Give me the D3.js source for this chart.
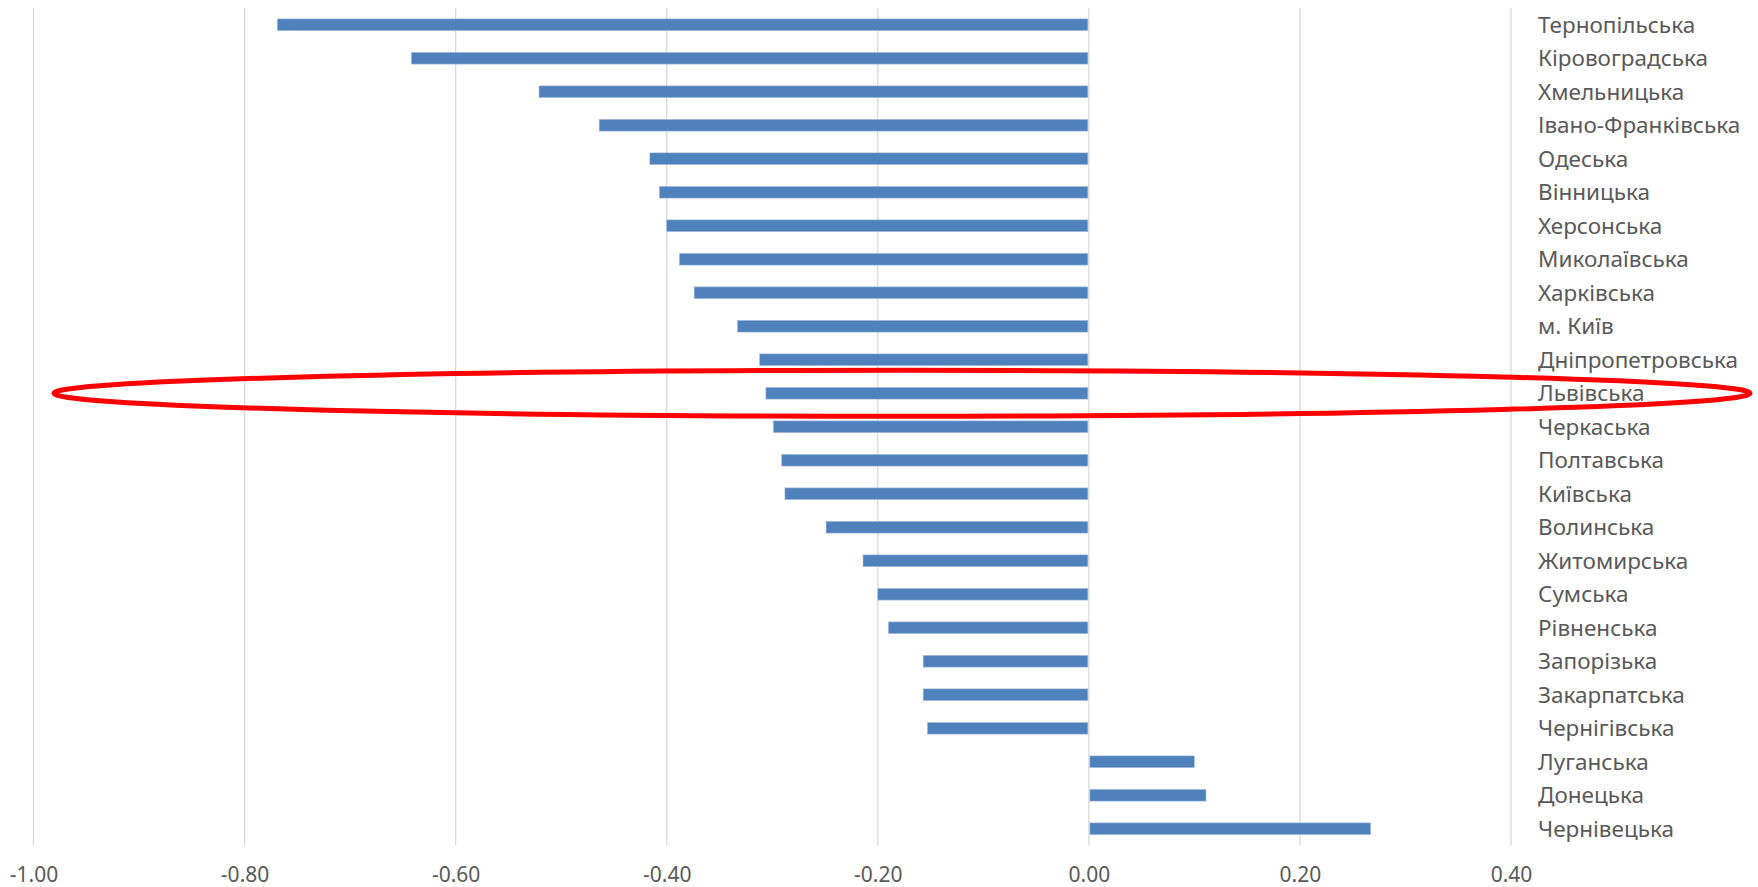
<!DOCTYPE html>
<html>
<head>
<meta charset="utf-8">
<script src="https://cdn.jsdelivr.net/npm/d3@7"></script>
<style>
  html, body { margin: 0; padding: 0; background: #ffffff; }
  svg { display: block; }
</style>
</head>
<body>
<svg id="chart" width="1758" height="887"></svg>
<script>
const categories = [
  "Тернопільська", "Кіровоградська", "Хмельницька", "Івано-Франківська", "Одеська",
  "Вінницька", "Херсонська", "Миколаївська", "Харківська", "м. Київ",
  "Дніпропетровська", "Львівська", "Черкаська", "Полтавська", "Київська",
  "Волинська", "Житомирська", "Сумська", "Рівненська", "Запорізька",
  "Закарпатська", "Чернігівська", "Луганська", "Донецька", "Чернівецька"
];
const values = [
  -0.769, -0.642, -0.521, -0.464, -0.416,
  -0.407, -0.400, -0.388, -0.374, -0.333,
  -0.312, -0.306, -0.299, -0.291, -0.288,
  -0.249, -0.214, -0.200, -0.190, -0.157,
  -0.157, -0.153, 0.100, 0.111, 0.267
];
const tickValues = [-1.0, -0.8, -0.6, -0.4, -0.2, 0.0, 0.2, 0.4];
const tickLabels = ["-1.00", "-0.80", "-0.60", "-0.40", "-0.20", "0.00", "0.20", "0.40"];
const highlighted = "Львівська";

const svg = d3.select("#chart");
const plot = { left: 33.5, right: 1511, top: 8, bottom: 845.5 };

const x = d3.scaleLinear().domain([-1.0, 0.4]).range([plot.left, plot.right]);
const y = d3.scaleBand().domain(categories).range([plot.top, plot.bottom])
  .paddingInner(0.65).paddingOuter(0.325);

// gridlines
svg.append("g").selectAll("line").data(tickValues).join("line")
  .attr("x1", d => x(d)).attr("x2", d => x(d))
  .attr("y1", plot.top).attr("y2", plot.bottom)
  .attr("stroke", "#d9d9d9").attr("stroke-width", 1.3);

// bars
svg.append("g").selectAll("rect").data(categories).join("rect")
  .attr("x", (d, i) => Math.min(x(0), x(values[i])) + (values[i] > 0 ? 1 : 0))
  .attr("width", (d, i) => Math.abs(x(values[i]) - x(0)) - 1)
  .attr("y", d => y(d))
  .attr("height", y.bandwidth())
  .attr("fill", "#4f81bd")
  .attr("stroke", "#a7bfdf").attr("stroke-width", 0.6);

// category labels (right side)
const yAxis = svg.append("g")
  .attr("transform", `translate(1538,0)`)
  .call(d3.axisRight(y).tickSize(0).tickPadding(0));
yAxis.select(".domain").remove();
yAxis.selectAll("text")
  .attr("x", 0)
  .attr("dy", "0.35em")
  .style("font-family", "'Noto Sans', sans-serif")
  .style("font-size", "22.5px")
  .attr("fill", "#595959");

// bottom tick labels
const xAxis = svg.append("g")
  .attr("transform", `translate(0,${plot.bottom})`)
  .call(d3.axisBottom(x).tickValues(tickValues)
    .tickFormat((d, i) => tickLabels[i]).tickSize(0).tickPadding(0));
xAxis.select(".domain").remove();
xAxis.selectAll("text")
  .attr("y", 36).attr("dy", 0)
  .style("font-family", "'Noto Sans', sans-serif")
  .style("font-size", "21px")
  .attr("fill", "#595959");

// red highlight ellipse around the highlighted row
const cy = y(highlighted) + y.bandwidth() / 2;
svg.append("ellipse")
  .attr("cx", (54 + 1750) / 2)
  .attr("cy", cy)
  .attr("rx", (1750 - 54) / 2)
  .attr("ry", 23)
  .attr("fill", "none")
  .attr("stroke", "#ff0000")
  .attr("stroke-width", 5);
</script>
</body>
</html>
